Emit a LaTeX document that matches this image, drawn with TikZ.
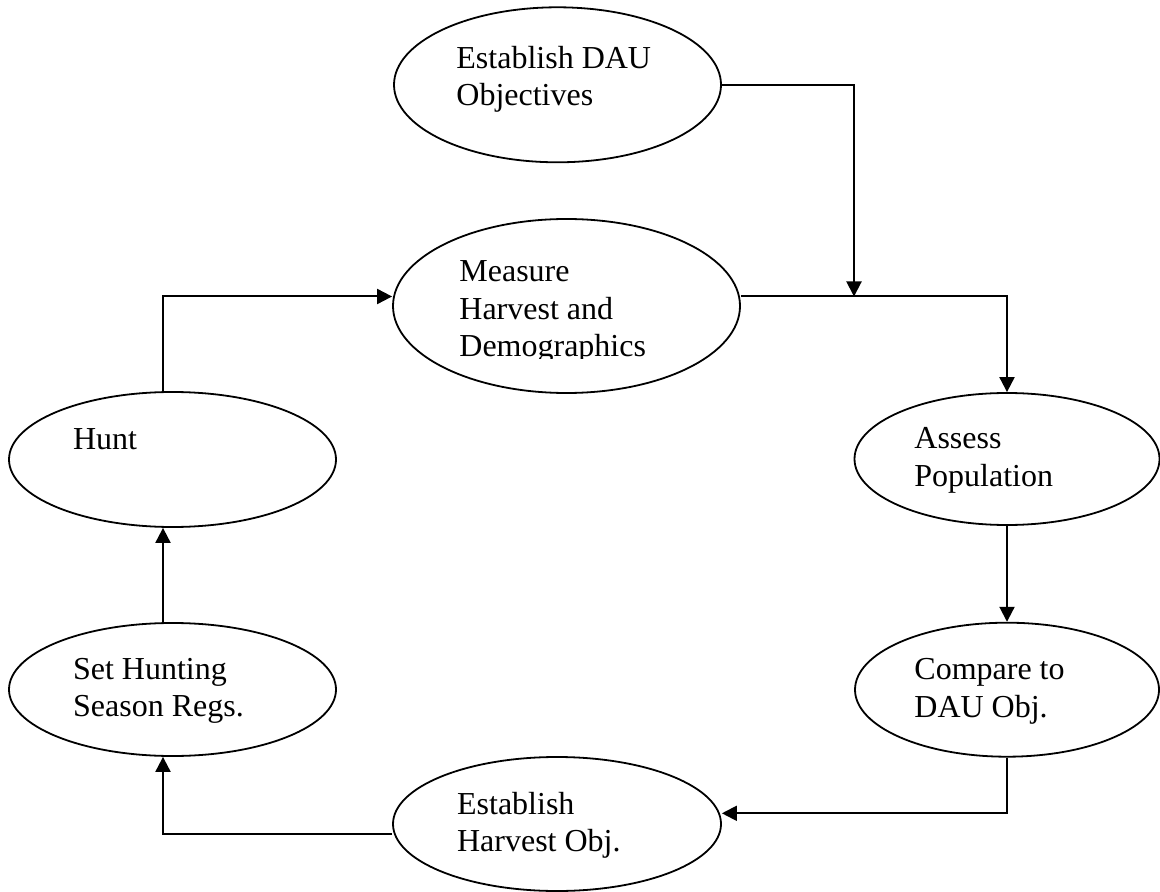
\documentclass[tikz,border=0pt]{standalone}
\usepackage{fontspec}
\setmainfont{Liberation Serif}
\usetikzlibrary{shapes.geometric,arrows.meta}
\tikzset{
  >={Triangle[length=7.5pt,width=7.5pt]},
  {oval/.style 2 args} ={ellipse,draw,line width=0.9pt,inner sep=0pt,
                  minimum width=#1,minimum height=#2},
  {words/.style} ={anchor=base west,align=left,inner sep=0pt,
                  font=\fontsize{16pt}{18.85pt}\selectfont},
  {link/.style} ={draw,line width=1pt},
}
\begin{document}
\begin{tikzpicture}[x=0.5pt,y=-0.5pt]
\useasboundingbox (0,0) rectangle (1160,892);
% the ovals
\node[oval={163.5pt}{77.5pt}] (objdau) at (557.5,84.8) {};
\node[oval={173.5pt}{87pt}] (measure) at (566.5,306) {};
\node[oval={163.5pt}{67.5pt}] (hunt) at (172.5,459.5) {};
\node[oval={152.5pt}{66pt}] (assess) at (1007,459) {};
\node[oval={163.5pt}{66.5pt}] (sethunt) at (172.5,689.5) {};
\node[oval={152pt}{67pt}] (compare) at (1007,689.7) {};
\node[oval={164pt}{67pt}] (harvest) at (557,824) {};
% their texts (base = last line)
\node[words] (tobjdau) at (456,106) {Establish DAU\\Objectives};
\begin{scope}
\clip (380,200) rectangle (745,358.5);
\node[words] (tmeasure) at (459,357) {Measure\\Harvest and\\Demographics};
\end{scope}
\node[words] (thunt) at (72.7,450) {Hunt};
\node[words] (tassess) at (914,486.7) {Assess\\Population};
\node[words] (tsethunt) at (72.7,716.7) {Set Hunting\\Season Regs.};
\node[words] (tcompare) at (914,717) {Compare to\\DAU Obj.};
\node[words] (tharvest) at (456.7,851.7) {Establish\\Harvest Obj.};
% bends of the connectors
\coordinate (j1) at (854,296.5);
\coordinate (j2) at (1007,813.3);
\coordinate (j3) at (163,833.5);
% connectors
\path[link,->] (objdau.east) -| (j1);
\path[link,->] (measure.east |- j1) -| (assess.north);
\path[link,->] (assess.south) -- (compare.north);
\path[link,->] (compare.south) -- (j2) -- (harvest.east |- j2);
\path[link,->] (harvest.west |- j3) -- (j3) -- (j3 |- sethunt.south);
\path[link,->] (sethunt.north -| j3) -- (hunt.south -| j3);
\path[link,->] (hunt.north -| j3) |- (measure.west |- j1);
\end{tikzpicture}
\end{document}
